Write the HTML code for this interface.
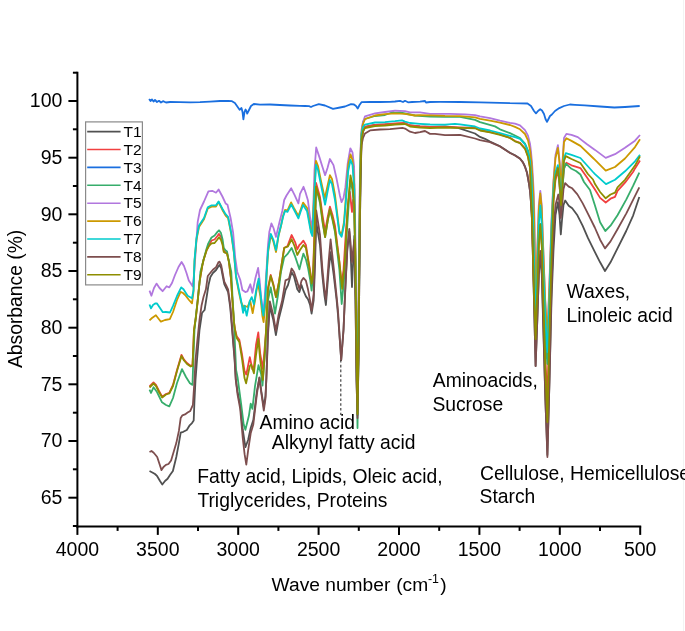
<!DOCTYPE html>
<html><head><meta charset="utf-8"><style>
html,body{margin:0;padding:0;background:#fff;}
body{width:685px;height:631px;overflow:hidden;font-family:"Liberation Sans",sans-serif;}
svg{display:block;will-change:transform;}
</style></head><body>
<svg width="685" height="631" viewBox="0 0 685 631">
<rect width="685" height="631" fill="#fff"/>
<line x1="683.5" y1="0" x2="683.5" y2="631" stroke="#f3f3f3" stroke-width="1"/>
<polyline points="149.5,471.0 152.8,472.7 155.0,474.0 157.2,476.2 160.0,481.0 162.3,484.5 165.0,481.0 167.6,478.8 170.0,475.0 172.9,471.0 176.3,457.0 178.9,443.1 180.7,432.7 183.3,431.8 186.8,430.0 189.4,425.7 192.0,423.1 193.7,420.5 194.5,400.0 195.5,380.0 197.0,360.0 199.5,330.0 202.0,313.0 204.6,310.0 206.5,298.0 208.5,285.0 210.4,277.0 212.9,273.0 216.1,270.0 218.6,266.0 219.5,265.0 221.2,268.0 223.1,278.0 224.3,284.0 226.2,288.0 228.1,292.0 230.3,308.0 231.7,325.0 233.1,342.0 234.6,360.0 235.8,380.0 237.6,392.0 240.2,405.0 242.8,430.0 245.4,447.2 248.1,440.0 250.7,428.0 253.3,420.0 256.8,392.0 259.4,378.0 261.1,390.0 263.8,407.0 265.5,396.0 266.4,378.0 268.0,335.0 269.8,306.0 273.3,320.0 275.9,335.0 278.5,320.0 282.0,306.0 285.5,290.0 288.0,285.0 291.6,272.1 294.0,276.4 297.3,289.3 299.4,292.1 301.5,285.0 303.4,290.7 305.9,296.4 308.0,299.3 310.1,305.0 311.6,313.6 313.7,300.0 315.0,265.0 316.2,222.0 320.0,245.0 322.3,275.0 324.4,295.0 325.9,305.0 328.7,270.0 330.6,252.1 333.7,275.0 336.6,300.0 338.0,315.0 341.2,360.0 343.5,330.0 345.2,292.0 347.3,250.0 349.3,231.6 350.5,250.0 352.0,287.0 353.2,260.0 354.3,236.0 355.5,300.0 356.5,380.0 357.5,415.0 358.5,360.0 359.5,260.0 360.5,180.0 361.5,140.0 363.0,132.0 365.0,127.0 375.0,125.0 385.0,124.5 395.0,124.0 405.0,123.5 410.0,125.5 420.0,126.5 430.0,127.0 445.0,126.5 458.0,127.8 475.0,133.5 480.0,136.9 485.0,138.8 490.0,141.6 500.0,146.2 505.0,149.5 510.0,152.8 515.0,155.2 520.0,158.5 523.0,162.3 525.0,166.5 527.0,172.5 528.0,178.0 529.0,183.5 530.0,190.5 531.0,202.5 532.0,220.0 533.5,280.0 535.6,366.0 537.3,320.0 538.8,275.0 540.3,255.0 541.8,275.0 543.5,335.0 545.4,400.0 547.4,455.0 549.5,380.0 551.5,300.0 553.5,250.0 555.5,215.0 557.9,202.1 559.5,215.0 560.8,234.4 562.0,220.0 563.5,205.0 565.2,200.5 568.7,205.7 572.2,208.3 577.4,215.3 582.6,225.7 587.9,237.9 594.8,251.9 600.1,262.3 605.0,271.0 610.5,262.3 617.5,248.4 626.2,231.0 633.2,215.3 639.3,197.0" fill="none" stroke="#515151" stroke-width="1.8" stroke-linejoin="round"/>
<polyline points="149.5,386.5 153.5,382.5 156.0,385.0 159.0,391.0 162.2,396.8 166.0,394.0 169.3,392.8 173.0,385.0 177.0,370.0 181.5,354.8 184.0,359.6 187.0,363.0 190.7,365.9 192.5,365.0 193.2,350.0 194.0,330.0 195.8,318.0 197.7,300.8 199.6,281.7 202.1,266.5 203.5,260.0 206.7,250.0 209.0,245.0 211.5,240.5 214.6,239.5 217.4,236.0 219.0,233.9 221.0,237.0 222.6,243.0 223.8,251.0 225.4,252.0 227.0,253.0 228.9,261.4 231.0,278.6 232.4,300.0 233.9,321.4 235.0,329.2 236.7,336.2 239.3,339.7 241.9,353.6 244.5,371.0 246.3,374.5 249.8,357.1 252.4,369.2 254.0,366.0 256.0,345.0 258.3,332.5 260.2,353.6 262.8,368.9 264.5,350.0 266.1,330.0 268.0,287.4 270.7,275.0 273.3,283.9 276.0,297.0 279.0,282.0 281.0,268.5 284.2,247.8 287.4,246.3 291.6,235.0 295.1,242.1 297.3,249.3 299.4,245.0 300.9,243.6 303.4,240.7 305.9,245.0 308.0,257.9 310.1,270.7 311.6,282.1 313.0,275.0 313.7,253.6 314.4,232.1 316.0,182.8 320.0,197.1 322.5,215.0 325.1,231.3 327.5,218.0 329.9,206.6 332.5,215.0 335.0,225.6 339.4,262.0 341.5,285.0 343.5,270.0 346.0,230.0 348.5,200.0 350.0,192.0 351.2,205.0 352.0,212.0 353.0,200.0 354.2,205.0 355.4,260.0 356.4,340.0 357.5,410.0 358.5,340.0 359.5,240.0 360.5,170.0 361.5,140.0 363.0,130.0 365.0,127.0 375.0,125.0 385.0,124.5 395.0,123.5 405.0,123.0 410.0,125.5 420.0,126.5 430.0,127.0 445.0,126.9 460.0,127.3 475.0,127.8 480.0,130.2 490.0,132.0 500.0,134.5 510.0,137.8 515.0,141.0 520.0,142.8 525.0,148.3 528.0,156.3 530.0,167.4 532.0,215.0 533.8,280.0 535.6,330.0 537.3,285.0 538.8,245.0 540.3,225.0 541.8,245.0 543.5,300.0 545.4,360.0 547.4,400.0 549.5,320.0 551.5,250.0 553.5,200.0 555.5,180.0 557.9,170.0 559.5,185.0 561.1,208.0 562.6,186.0 564.0,168.0 566.4,162.8 571.5,165.3 580.4,168.1 587.9,178.7 594.8,189.2 600.1,197.9 605.7,202.5 610.5,198.7 615.0,196.9 617.5,190.9 625.0,182.7 633.2,171.7 635.0,168.4 640.0,160.6" fill="none" stroke="#F14040" stroke-width="1.8" stroke-linejoin="round"/>
<polyline points="149.1,99.0 150.5,101.0 152.0,99.5 153.5,101.5 155.0,100.0 157.0,102.0 159.0,100.8 161.0,102.5 163.0,101.2 166.0,102.5 170.0,102.0 180.0,102.2 190.0,102.4 200.0,102.2 210.0,101.6 220.0,101.0 228.0,100.9 232.0,101.2 234.9,103.0 237.0,106.0 239.6,109.8 241.5,108.0 242.5,112.0 243.4,119.3 244.5,112.0 245.5,109.5 246.2,110.5 247.2,113.6 249.0,110.0 251.0,106.0 253.8,104.0 260.0,104.7 270.0,104.5 280.0,105.0 290.0,105.5 300.0,105.8 305.0,106.0 309.0,106.2 311.0,107.0 313.0,106.0 318.8,104.1 325.0,105.5 333.0,108.9 340.0,107.5 345.0,106.5 351.0,104.1 354.0,104.5 356.0,106.0 357.7,108.5 359.5,105.0 361.5,102.2 370.0,102.0 380.0,102.0 390.0,101.8 395.0,101.5 400.0,100.9 403.0,102.0 405.0,100.8 408.0,102.3 412.0,102.0 420.0,101.6 425.0,101.0 426.0,102.5 430.0,102.0 440.0,101.9 460.0,102.0 480.0,102.3 500.0,102.8 510.0,103.2 520.0,103.3 527.5,103.5 531.0,106.0 534.0,111.0 536.0,113.4 538.0,111.0 540.2,109.2 542.0,110.5 544.0,114.0 545.5,119.0 547.0,121.9 548.5,119.0 550.0,116.0 551.9,114.5 555.0,111.0 559.3,108.1 564.0,106.0 569.9,104.5 575.0,104.8 584.7,105.4 600.0,106.5 614.3,107.5 625.0,107.0 639.7,106.0" fill="none" stroke="#1A6FDF" stroke-width="1.8" stroke-linejoin="round"/>
<polyline points="149.5,389.7 151.0,393.0 153.5,387.3 157.0,392.0 162.0,402.3 166.0,405.0 169.3,406.3 173.0,398.0 177.0,383.0 182.0,369.1 186.0,377.0 189.9,383.3 192.5,384.9 193.3,360.0 194.5,330.0 196.0,315.0 197.7,300.0 199.6,281.7 200.4,272.0 203.5,260.0 206.7,248.2 208.3,243.4 211.5,237.5 214.6,235.5 217.4,231.9 219.0,230.3 221.0,233.1 222.6,239.5 223.8,248.2 225.4,250.1 227.0,251.4 228.5,259.3 231.3,272.0 232.4,295.0 233.9,320.0 235.0,345.0 236.1,370.0 237.6,377.4 241.1,403.6 243.7,424.5 245.4,429.8 248.9,415.8 250.7,403.6 252.4,408.8 255.0,386.2 258.5,365.2 261.1,374.0 262.5,385.6 265.0,352.2 268.0,300.0 270.7,287.4 273.0,300.0 275.0,313.5 278.0,295.0 281.0,271.7 284.2,257.4 287.4,254.2 291.6,247.9 295.1,256.4 299.4,269.3 301.5,260.7 303.4,253.6 305.9,259.3 308.0,267.9 310.1,279.3 311.6,290.7 313.7,267.9 315.1,239.3 316.0,187.0 320.0,203.0 322.5,222.0 325.1,237.0 327.5,222.0 329.9,209.4 332.5,220.0 335.0,232.0 339.4,270.0 341.7,304.0 344.0,280.0 347.0,230.0 350.3,180.0 352.5,190.0 354.2,210.0 355.4,270.0 356.4,350.0 357.5,428.0 358.5,350.0 359.5,250.0 360.5,170.0 361.5,135.0 363.0,122.0 365.0,119.0 375.0,116.0 385.0,115.0 393.0,112.0 395.0,113.0 400.0,112.5 405.0,113.5 415.0,115.5 430.0,116.5 445.0,116.8 460.0,116.8 475.0,119.9 480.0,122.1 495.0,126.4 500.0,129.3 510.0,133.1 515.0,135.5 520.0,138.0 525.0,143.5 528.0,150.5 530.0,160.0 531.5,177.0 533.0,215.0 534.3,275.0 535.6,325.0 537.3,280.0 538.8,240.0 540.3,224.0 541.8,245.0 543.5,295.0 545.4,340.0 547.4,364.0 549.5,300.0 551.5,240.0 553.5,195.0 555.5,175.0 557.9,168.0 559.5,184.0 561.1,208.0 562.6,186.0 564.0,169.0 565.8,163.7 571.5,168.8 576.0,171.0 580.4,174.5 584.0,182.0 590.0,190.0 594.8,205.0 600.1,222.3 605.3,231.0 610.5,225.7 617.5,215.3 626.2,199.6 633.2,185.7 639.3,172.6" fill="none" stroke="#37AD6B" stroke-width="1.8" stroke-linejoin="round"/>
<polyline points="149.5,290.6 151.4,295.7 154.0,288.0 156.5,283.6 159.5,288.0 162.6,291.2 166.6,286.2 169.2,287.4 172.0,283.0 175.0,275.0 178.5,267.0 181.6,262.0 184.0,266.0 186.5,273.0 188.8,280.4 190.5,283.0 192.6,286.2 194.0,275.0 195.1,260.0 197.7,221.8 200.0,210.0 204.0,201.5 208.4,191.4 212.2,190.8 216.0,192.7 218.6,189.5 222.4,196.5 225.6,203.4 227.5,204.7 230.6,218.0 233.2,233.2 235.2,257.6 237.3,272.0 240.3,280.0 242.4,290.0 245.3,292.1 247.4,291.4 250.3,284.3 252.4,292.9 255.3,278.6 258.1,267.9 259.6,280.0 261.0,297.0 263.1,312.0 264.5,300.0 266.5,270.0 268.0,245.0 269.3,232.0 271.4,223.4 273.5,228.0 276.0,236.9 279.4,222.5 282.3,211.0 284.2,200.0 286.5,195.5 291.2,188.3 294.4,194.7 298.4,203.4 300.0,193.9 303.5,186.8 305.5,192.3 307.9,200.2 310.3,219.2 311.9,228.7 313.0,215.0 314.5,170.0 316.2,147.5 319.4,157.1 322.4,166.7 325.1,175.2 327.5,168.0 329.9,159.0 333.5,165.1 336.7,179.3 339.8,195.2 341.6,202.2 343.5,198.0 345.4,187.2 347.7,163.5 350.3,148.3 352.5,152.4 354.1,166.7 355.3,230.0 356.3,310.0 357.4,365.0 358.5,300.0 359.5,200.0 360.5,150.0 361.5,130.0 363.0,122.0 365.0,116.4 375.0,113.3 385.0,112.0 395.0,110.7 405.0,111.1 410.0,112.4 420.0,112.4 430.0,113.9 450.0,113.9 465.0,114.4 475.0,115.1 480.0,116.4 490.0,118.2 500.0,120.7 510.0,122.9 515.0,123.7 520.0,125.3 525.0,130.1 528.0,135.6 530.0,143.6 531.0,151.5 532.0,162.6 533.0,178.5 533.8,194.4 534.6,225.0 535.6,300.0 537.3,250.0 538.8,205.0 540.3,190.8 541.7,205.0 543.3,250.0 545.2,300.0 547.4,335.0 549.5,280.0 551.5,220.0 553.5,180.0 555.5,155.0 557.9,145.2 559.5,160.0 561.1,185.0 562.6,160.0 564.0,138.0 566.4,133.9 571.5,134.9 577.8,137.1 586.7,144.0 595.0,149.9 605.7,157.9 615.0,154.2 625.0,147.8 635.0,140.7 640.0,135.0" fill="none" stroke="#B177DE" stroke-width="1.8" stroke-linejoin="round"/>
<polyline points="149.5,320.4 152.0,318.0 155.9,315.3 158.0,318.0 160.9,321.7 165.0,320.0 169.8,319.1 173.0,312.0 177.0,300.0 180.6,291.9 183.0,293.0 185.7,295.7 189.0,300.0 192.0,303.3 193.5,292.0 194.5,261.5 196.5,239.5 199.0,227.0 204.0,219.3 207.8,208.5 211.6,206.6 216.0,206.6 218.6,202.0 223.0,211.0 225.6,215.5 228.1,218.0 231.3,234.5 233.8,252.0 236.0,277.0 238.9,292.0 241.0,302.0 243.4,307.0 245.0,306.0 247.5,307.0 250.2,300.8 252.7,313.2 255.0,300.0 257.8,282.3 260.3,296.0 262.4,316.0 263.6,322.1 265.3,305.0 266.7,274.0 268.1,252.0 270.8,235.0 273.5,242.0 276.0,252.0 278.5,236.0 281.0,226.0 283.0,216.0 285.0,210.0 287.5,210.3 291.1,202.4 293.9,207.9 298.4,216.0 300.5,210.0 303.1,202.6 307.1,208.0 310.8,229.0 312.3,234.0 313.6,205.0 316.0,160.9 318.0,166.0 321.0,181.0 324.8,198.3 327.5,186.0 329.9,175.2 332.0,179.0 335.0,195.0 339.4,231.3 341.6,235.0 344.0,222.0 346.0,195.0 348.2,165.0 350.5,154.4 352.5,160.0 354.3,185.0 355.4,255.0 356.4,325.0 357.5,385.0 358.5,320.0 359.5,220.0 360.5,155.0 361.5,133.0 363.0,124.0 365.0,119.0 375.0,115.5 385.0,114.2 395.0,113.3 405.0,113.8 415.0,115.5 420.0,115.1 430.0,115.3 445.0,115.9 460.0,116.1 475.0,117.3 480.0,118.8 490.0,120.6 500.0,122.6 510.0,125.0 515.0,126.9 520.0,129.3 525.0,134.0 528.0,140.4 530.0,149.9 531.5,162.6 533.0,186.4 534.0,215.0 534.8,260.0 535.6,310.0 537.3,255.0 538.8,210.0 540.3,193.5 541.7,208.0 543.3,252.0 545.2,302.0 547.4,340.0 549.5,285.0 551.5,225.0 553.5,183.0 555.5,158.0 557.9,148.0 559.5,163.0 561.1,190.0 562.6,163.0 564.0,142.0 566.4,138.3 571.5,140.9 580.4,145.9 593.0,158.0 595.0,159.9 605.7,170.6 615.0,167.0 625.0,158.5 635.0,147.1 640.0,139.2" fill="none" stroke="#CC9900" stroke-width="1.8" stroke-linejoin="round"/>
<polyline points="149.5,304.5 151.0,308.4 153.0,305.0 155.5,303.3 157.0,303.5 160.0,308.0 162.8,312.2 166.0,312.0 170.0,312.5 173.0,305.8 177.0,296.0 181.2,287.4 183.5,289.3 187.6,295.7 192.0,298.2 193.5,290.0 194.5,260.0 196.5,238.0 199.0,225.6 204.0,218.0 207.8,207.2 211.6,205.3 216.0,205.3 218.6,201.5 223.0,209.8 225.6,214.2 228.1,216.8 231.3,233.2 233.8,251.0 236.0,275.7 238.9,290.0 241.0,300.0 243.1,312.9 244.6,305.7 246.7,315.7 249.6,301.4 251.7,297.1 253.9,304.3 256.0,291.4 258.6,278.6 260.3,291.4 262.4,310.0 263.4,315.7 265.3,300.0 266.7,271.4 268.1,250.0 270.8,233.8 273.5,240.0 276.0,250.0 278.5,235.0 281.0,225.6 283.0,217.0 285.0,211.0 287.5,211.9 291.2,204.5 293.9,209.5 298.4,218.4 300.5,212.0 303.1,205.0 307.1,211.3 310.8,231.9 312.3,236.0 313.6,210.0 316.0,164.7 318.0,170.0 321.0,185.0 325.1,204.7 327.5,192.0 329.9,180.0 332.0,184.0 335.0,200.0 339.4,233.2 341.6,236.7 344.0,225.0 346.0,200.0 348.2,171.1 350.5,159.9 352.5,165.0 354.3,190.0 355.4,260.0 356.4,330.0 357.5,395.0 358.5,330.0 359.5,230.0 360.5,160.0 361.5,135.0 363.0,127.0 365.0,124.7 375.0,122.5 385.0,122.1 395.0,121.2 402.0,120.3 405.0,121.6 410.0,123.0 420.0,123.8 430.0,124.5 445.0,124.7 455.0,123.8 460.0,124.3 475.0,126.5 480.0,128.5 490.0,130.5 500.0,133.1 510.0,135.9 515.0,137.2 520.0,138.8 525.0,144.4 528.0,151.5 530.0,161.0 531.5,178.5 533.0,215.0 534.3,270.0 535.6,318.0 537.3,275.0 538.8,225.0 540.3,205.3 541.8,225.0 543.5,275.0 545.4,320.0 547.4,352.0 549.5,300.0 551.5,230.0 553.5,190.0 555.5,172.0 557.9,165.1 559.5,178.0 561.1,200.0 562.6,178.0 564.0,158.0 565.8,153.2 571.5,154.8 580.4,158.0 593.0,172.0 595.0,174.1 606.0,184.1 615.0,179.8 625.0,171.3 635.0,161.3 640.0,154.9" fill="none" stroke="#00CBCC" stroke-width="1.8" stroke-linejoin="round"/>
<polyline points="149.5,452.0 151.5,451.0 153.7,452.7 157.2,457.0 159.5,464.0 161.5,470.1 163.5,467.0 165.9,464.9 168.5,464.0 171.1,460.5 173.7,451.8 176.3,443.1 178.9,430.9 180.7,417.9 182.4,415.3 185.0,414.4 187.6,412.6 190.3,410.9 192.9,404.8 194.5,380.0 195.5,360.0 197.4,340.0 199.5,320.0 201.5,305.8 203.5,297.0 205.9,289.3 207.8,276.0 210.4,272.8 212.9,269.7 216.1,267.1 218.6,262.0 219.5,261.7 221.2,265.2 223.1,275.4 224.3,281.7 226.2,285.5 228.1,289.3 230.3,305.0 231.7,321.4 233.1,338.6 234.6,357.1 235.8,379.7 237.6,394.9 240.2,408.8 242.8,438.5 244.6,454.2 246.3,464.7 248.1,450.7 250.7,433.3 253.3,424.5 256.8,394.9 259.4,377.4 261.1,391.4 263.8,410.6 265.5,398.4 266.4,377.4 268.0,330.0 269.8,301.3 273.3,315.3 275.9,330.9 278.5,315.3 282.0,301.3 285.5,280.4 289.0,278.7 291.6,268.5 294.0,272.1 297.3,282.1 299.4,289.3 301.5,280.7 303.4,277.9 305.9,280.7 308.0,289.3 310.1,300.7 311.6,310.7 313.7,293.6 315.0,250.0 316.2,210.5 320.0,235.0 322.3,267.9 324.4,289.3 325.9,299.3 328.7,260.7 330.6,239.3 333.7,267.9 336.6,296.4 338.0,310.7 341.2,360.2 343.5,330.0 345.2,290.0 347.3,248.0 349.3,229.0 350.5,242.0 352.0,262.0 353.2,250.0 354.3,240.0 355.5,300.0 356.5,380.0 357.5,418.0 358.5,360.0 359.5,260.0 360.5,180.0 361.5,145.0 363.0,138.0 365.0,133.5 370.0,130.4 380.0,129.5 390.0,129.1 400.0,128.2 403.0,128.0 405.0,128.6 410.0,131.7 415.0,133.0 420.0,132.1 425.0,131.0 430.0,133.9 435.0,133.9 445.0,135.2 460.0,134.8 475.0,138.5 480.0,140.2 490.0,142.1 500.0,146.4 505.0,149.8 510.0,153.0 515.0,155.5 520.0,158.8 523.0,162.6 525.0,167.0 527.0,173.0 528.0,178.5 529.0,184.0 530.0,191.0 531.0,203.0 532.0,220.0 533.5,280.0 535.6,366.0 537.3,320.0 538.8,275.0 540.3,251.0 541.8,270.0 543.5,330.0 545.4,400.0 547.4,457.0 549.5,380.0 551.5,290.0 553.5,230.0 555.5,205.0 558.3,194.5 559.5,203.0 560.8,218.0 562.2,205.0 563.5,189.0 565.2,183.1 568.7,186.6 572.2,188.3 577.4,194.4 582.6,203.1 587.9,213.6 594.8,227.5 600.1,239.7 605.0,248.4 610.5,241.4 617.5,229.2 626.2,213.6 633.2,199.6 639.3,187.4" fill="none" stroke="#7D4E4E" stroke-width="1.8" stroke-linejoin="round"/>
<polyline points="149.5,387.5 153.5,383.5 156.0,386.0 159.0,392.0 162.2,397.5 166.0,394.5 169.3,393.5 173.0,386.0 177.0,371.0 181.5,356.0 184.0,360.5 187.0,364.0 190.7,366.5 192.5,366.0 193.2,350.0 194.0,330.0 195.8,318.0 197.7,300.8 199.6,281.7 202.1,266.5 203.5,260.0 206.7,250.0 209.0,246.0 211.5,243.4 214.6,243.0 217.4,239.5 219.0,237.3 221.0,240.0 222.6,245.0 223.8,252.0 225.4,253.0 227.0,253.5 228.9,262.0 231.0,279.0 232.4,300.0 233.9,321.4 235.0,330.0 236.7,338.0 239.3,342.0 241.9,358.0 244.5,378.0 246.1,383.3 249.8,366.0 251.2,364.4 253.9,373.3 256.0,355.0 258.3,338.9 260.2,360.0 262.8,380.0 264.5,358.0 266.1,330.0 268.0,290.0 270.7,276.0 273.3,285.0 276.0,297.0 279.0,282.0 281.0,268.5 284.2,248.0 288.0,246.4 291.6,239.3 294.5,246.0 297.3,255.0 300.0,250.0 303.4,245.0 305.9,247.9 308.0,260.0 310.1,272.1 311.6,283.6 313.0,276.0 314.4,240.0 316.0,186.6 320.0,200.0 322.5,220.0 325.1,237.0 327.5,222.0 329.9,209.4 332.5,218.0 335.0,230.0 339.4,262.0 342.2,288.9 345.0,260.0 347.5,210.0 350.5,175.4 352.5,185.0 354.2,204.4 355.4,260.0 356.4,340.0 357.5,414.0 358.5,340.0 359.5,240.0 360.5,170.0 361.5,140.0 363.0,131.0 365.0,128.0 375.0,126.0 385.0,125.5 395.0,124.5 405.0,124.0 410.0,126.5 420.0,127.5 430.0,128.0 445.0,127.5 460.0,127.8 475.0,128.3 480.0,130.5 490.0,132.3 500.0,134.8 510.0,138.0 515.0,141.3 520.0,143.2 525.0,148.8 528.0,157.0 530.0,168.0 532.0,216.0 533.8,285.0 535.6,339.0 537.3,290.0 538.8,245.0 540.3,224.3 541.8,245.0 543.5,305.0 545.4,370.0 547.4,422.0 549.5,330.0 551.5,255.0 553.5,200.0 555.5,177.0 557.9,168.0 559.5,182.0 561.1,205.0 562.6,182.0 564.0,161.0 565.8,156.1 571.5,159.0 580.4,163.0 587.9,174.0 593.0,179.5 595.0,184.1 600.1,192.0 605.7,198.3 610.5,194.5 615.0,192.6 617.5,187.4 625.0,179.8 635.0,165.6 640.0,156.3" fill="none" stroke="#8E8E00" stroke-width="1.8" stroke-linejoin="round"/>
<g stroke="#000" stroke-width="2" fill="none">
<line x1="77.4" y1="71.7" x2="77.4" y2="527.4"/>
<line x1="76.4" y1="526.4" x2="641.2" y2="526.4"/>
<line x1="68.4" y1="497.7" x2="77.4" y2="497.7"/>
<line x1="68.4" y1="441.0" x2="77.4" y2="441.0"/>
<line x1="68.4" y1="384.3" x2="77.4" y2="384.3"/>
<line x1="68.4" y1="327.7" x2="77.4" y2="327.7"/>
<line x1="68.4" y1="271.0" x2="77.4" y2="271.0"/>
<line x1="68.4" y1="214.3" x2="77.4" y2="214.3"/>
<line x1="68.4" y1="157.7" x2="77.4" y2="157.7"/>
<line x1="68.4" y1="101.0" x2="77.4" y2="101.0"/>
<line x1="72.9" y1="526.0" x2="77.4" y2="526.0"/>
<line x1="72.9" y1="469.3" x2="77.4" y2="469.3"/>
<line x1="72.9" y1="412.7" x2="77.4" y2="412.7"/>
<line x1="72.9" y1="356.0" x2="77.4" y2="356.0"/>
<line x1="72.9" y1="299.3" x2="77.4" y2="299.3"/>
<line x1="72.9" y1="242.7" x2="77.4" y2="242.7"/>
<line x1="72.9" y1="186.0" x2="77.4" y2="186.0"/>
<line x1="72.9" y1="129.3" x2="77.4" y2="129.3"/>
<line x1="72.9" y1="72.7" x2="77.4" y2="72.7"/>
<line x1="640.2" y1="526.4" x2="640.2" y2="534.9"/>
<line x1="559.8" y1="526.4" x2="559.8" y2="534.9"/>
<line x1="479.4" y1="526.4" x2="479.4" y2="534.9"/>
<line x1="399.0" y1="526.4" x2="399.0" y2="534.9"/>
<line x1="318.6" y1="526.4" x2="318.6" y2="534.9"/>
<line x1="238.2" y1="526.4" x2="238.2" y2="534.9"/>
<line x1="157.8" y1="526.4" x2="157.8" y2="534.9"/>
<line x1="77.4" y1="526.4" x2="77.4" y2="534.9"/>
<line x1="600.0" y1="526.4" x2="600.0" y2="530.9"/>
<line x1="519.6" y1="526.4" x2="519.6" y2="530.9"/>
<line x1="439.2" y1="526.4" x2="439.2" y2="530.9"/>
<line x1="358.8" y1="526.4" x2="358.8" y2="530.9"/>
<line x1="278.4" y1="526.4" x2="278.4" y2="530.9"/>
<line x1="198.0" y1="526.4" x2="198.0" y2="530.9"/>
<line x1="117.6" y1="526.4" x2="117.6" y2="530.9"/>
</g>
<g font-family="Liberation Sans, sans-serif" font-size="19.5" fill="#000">
<text x="62.4" y="503.9" text-anchor="end">65</text>
<text x="62.4" y="447.2" text-anchor="end">70</text>
<text x="62.4" y="390.5" text-anchor="end">75</text>
<text x="62.4" y="333.9" text-anchor="end">80</text>
<text x="62.4" y="277.2" text-anchor="end">85</text>
<text x="62.4" y="220.5" text-anchor="end">90</text>
<text x="62.4" y="163.9" text-anchor="end">95</text>
<text x="62.4" y="107.2" text-anchor="end">100</text>
<text x="640.2" y="556.3" text-anchor="middle">500</text>
<text x="559.8" y="556.3" text-anchor="middle">1000</text>
<text x="479.4" y="556.3" text-anchor="middle">1500</text>
<text x="399.0" y="556.3" text-anchor="middle">2000</text>
<text x="318.6" y="556.3" text-anchor="middle">2500</text>
<text x="238.2" y="556.3" text-anchor="middle">3000</text>
<text x="157.8" y="556.3" text-anchor="middle">3500</text>
<text x="77.4" y="556.3" text-anchor="middle">4000</text>
</g>
<g font-family="Liberation Sans, sans-serif" fill="#000"><text x="271.6" y="591" font-size="19.2">Wave number</text><text x="396.2" y="591" font-size="19.2">(cm</text><text x="427.9" y="583" font-size="12.4">-1</text><text x="440.2" y="591" font-size="19.2">)</text></g>
<text transform="translate(22,368) rotate(-90)" font-family="Liberation Sans, sans-serif" font-size="19.3" fill="#000">Absorbance (%)</text>
<g font-family="Liberation Sans, sans-serif" font-size="19.3" fill="#000">
<text x="259.6" y="429.3">Amino acid</text>
<text x="271.8" y="448.5">Alkynyl fatty acid</text>
<text x="197.2" y="482.9">Fatty acid, Lipids, Oleic acid,</text>
<text x="197.4" y="506.7">Triglycerides, Proteins</text>
<text x="432.8" y="386.9">Aminoacids,</text>
<text x="432.4" y="410.9">Sucrose</text>
<text x="480" y="480.2">Cellulose, Hemicellulose</text>
<text x="479.6" y="503.4">Starch</text>
<text x="566.6" y="297.5">Waxes,</text>
<text x="566.5" y="321.6">Linoleic acid</text>
</g>
<line x1="340.8" y1="360" x2="340.8" y2="415" stroke="#333" stroke-width="1.1" stroke-dasharray="2.6,2.2"/>
<rect x="85.6" y="121.9" width="56.8" height="163" fill="#fff" stroke="#8a8a8a" stroke-width="1.2"/>
<line x1="87.2" y1="131.6" x2="120.6" y2="131.6" stroke="#515151" stroke-width="1.6"/>
<text x="123.5" y="136.8" font-family="Liberation Sans, sans-serif" font-size="15.5" fill="#000">T1</text>
<line x1="87.2" y1="149.5" x2="120.6" y2="149.5" stroke="#F14040" stroke-width="1.6"/>
<text x="123.5" y="154.7" font-family="Liberation Sans, sans-serif" font-size="15.5" fill="#000">T2</text>
<line x1="87.2" y1="167.4" x2="120.6" y2="167.4" stroke="#1A6FDF" stroke-width="1.6"/>
<text x="123.5" y="172.6" font-family="Liberation Sans, sans-serif" font-size="15.5" fill="#000">T3</text>
<line x1="87.2" y1="185.3" x2="120.6" y2="185.3" stroke="#37AD6B" stroke-width="1.6"/>
<text x="123.5" y="190.5" font-family="Liberation Sans, sans-serif" font-size="15.5" fill="#000">T4</text>
<line x1="87.2" y1="203.2" x2="120.6" y2="203.2" stroke="#B177DE" stroke-width="1.6"/>
<text x="123.5" y="208.4" font-family="Liberation Sans, sans-serif" font-size="15.5" fill="#000">T5</text>
<line x1="87.2" y1="221.1" x2="120.6" y2="221.1" stroke="#CC9900" stroke-width="1.6"/>
<text x="123.5" y="226.3" font-family="Liberation Sans, sans-serif" font-size="15.5" fill="#000">T6</text>
<line x1="87.2" y1="239.0" x2="120.6" y2="239.0" stroke="#00CBCC" stroke-width="1.6"/>
<text x="123.5" y="244.2" font-family="Liberation Sans, sans-serif" font-size="15.5" fill="#000">T7</text>
<line x1="87.2" y1="256.9" x2="120.6" y2="256.9" stroke="#7D4E4E" stroke-width="1.6"/>
<text x="123.5" y="262.1" font-family="Liberation Sans, sans-serif" font-size="15.5" fill="#000">T8</text>
<line x1="87.2" y1="274.8" x2="120.6" y2="274.8" stroke="#8E8E00" stroke-width="1.6"/>
<text x="123.5" y="280.0" font-family="Liberation Sans, sans-serif" font-size="15.5" fill="#000">T9</text>
</svg>
</body></html>
